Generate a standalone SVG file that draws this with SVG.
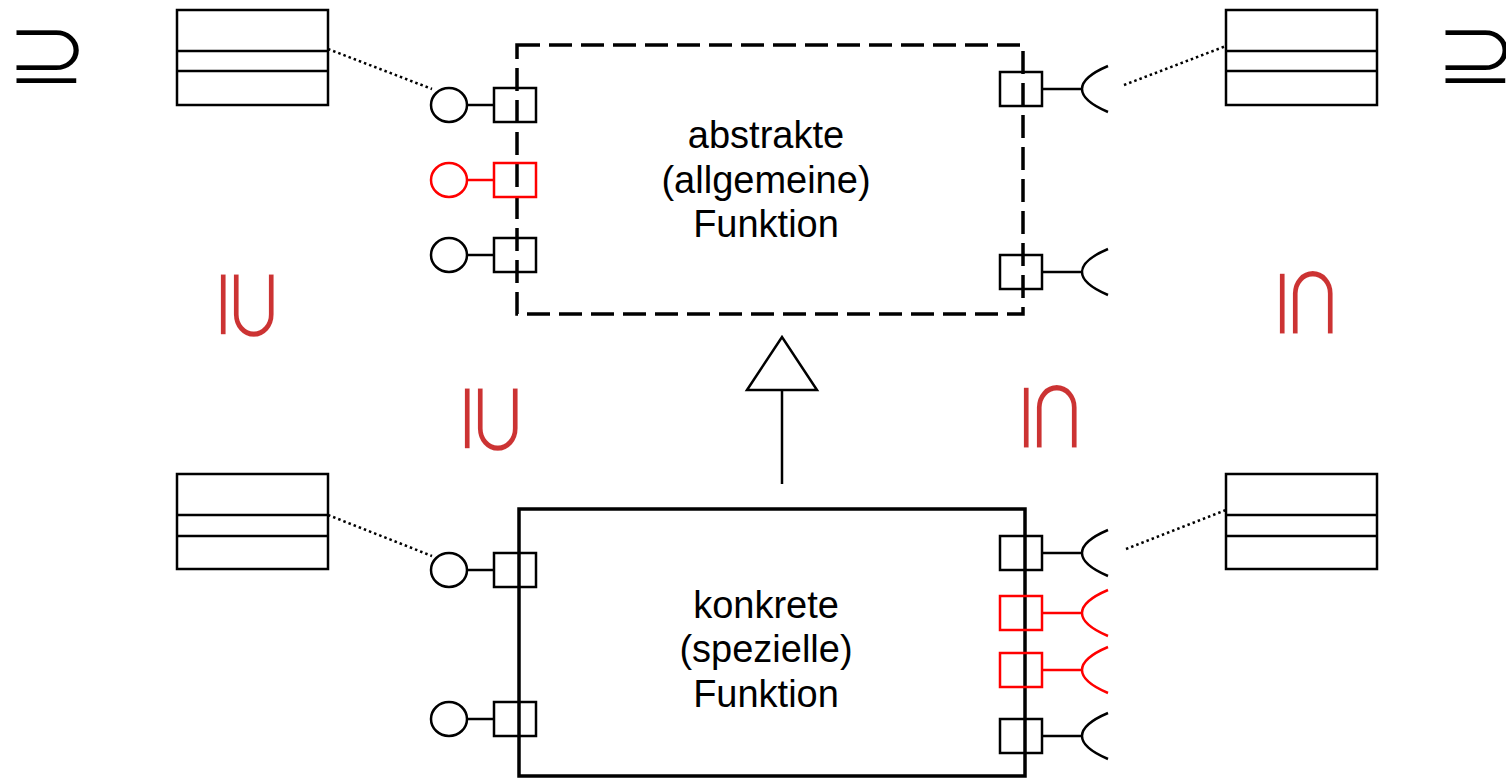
<svg xmlns="http://www.w3.org/2000/svg" xmlns:xlink="http://www.w3.org/1999/xlink" width="1506" height="778" viewBox="0 0 1506 778">
<style>
.bg{fill:#fff}
.cls{fill:none;stroke:#000;stroke-width:2.5}
.frame-abs{fill:none;stroke:#000;stroke-width:3.5;stroke-dasharray:23 9}
.frame-con{fill:none;stroke:#000;stroke-width:3.5}
.lbl{font-family:"Liberation Sans",Arial,sans-serif;font-size:38px;fill:#000;text-anchor:middle}
.sym{font-family:"DejaVu Sans",sans-serif;font-size:70px;text-anchor:middle;stroke:#fff;stroke-width:1.4px}
.blk{fill:#000}
.red{fill:#cc3333}
.dot{fill:none;stroke:#000;stroke-width:2.5;stroke-dasharray:2.5 3}
.gen{fill:none;stroke:#000;stroke-width:2.5}
.pb{color:#000}
.pr{color:#f00}
</style>
<defs>
<g id="prov" fill="none" stroke="currentColor" stroke-width="2.5">
<ellipse cx="-66" cy="0" rx="18" ry="17" fill="#fff"/>
<line x1="-48" y1="0" x2="-21" y2="0"/>
<rect x="-21" y="-17" width="42" height="34"/>
</g>
<g id="req" fill="none" stroke="currentColor" stroke-width="2.5">
<rect x="-21" y="-17" width="42" height="34"/>
<line x1="21" y1="0" x2="61" y2="0"/>
<path d="M87,-23 Q61,-12 61,0 Q61,12 87,23"/>
</g>
<marker id="tri" markerUnits="userSpaceOnUse" viewBox="-3 -3 59 76" refX="0" refY="35" markerWidth="59" markerHeight="76" orient="auto">
<path d="M0,0 L53,35 L0,70 Z" fill="#fff" stroke="#000" stroke-width="2.5"/>
</marker>
</defs>
<rect class="bg" x="0" y="0" width="1506" height="778"/>

<g id="symbols">
<g transform="translate(47,58) scale(1.44,1.27)"><text class="sym blk" x="0" y="20.5">⊇</text></g>
<g transform="translate(1476,58) scale(1.44,1.27)"><text class="sym blk" x="0" y="20.5">⊇</text></g>
<g transform="translate(246,305) rotate(90) scale(1.44,1.27)"><text class="sym red" x="0" y="20.5">⊇</text></g>
<g transform="translate(490,419) rotate(90) scale(1.44,1.27)"><text class="sym red" x="0" y="20.5">⊇</text></g>
<g transform="translate(1305,303) rotate(90) scale(1.44,1.27)"><text class="sym red" x="0" y="20.5">⊆</text></g>
<g transform="translate(1049,417) rotate(90) scale(1.44,1.27)"><text class="sym red" x="0" y="20.5">⊆</text></g>
</g>

<g id="class-tl"><rect class="cls" x="177" y="10" width="151" height="95"/><line class="cls" x1="177" y1="51" x2="328" y2="51"/><line class="cls" x1="177" y1="71" x2="328" y2="71"/></g>
<g id="class-tr"><rect class="cls" x="1226" y="10" width="151" height="95"/><line class="cls" x1="1226" y1="51" x2="1377" y2="51"/><line class="cls" x1="1226" y1="71" x2="1377" y2="71"/></g>
<g id="class-bl"><rect class="cls" x="177" y="474" width="151" height="95"/><line class="cls" x1="177" y1="515" x2="328" y2="515"/><line class="cls" x1="177" y1="536" x2="328" y2="536"/></g>
<g id="class-br"><rect class="cls" x="1226" y="474" width="151" height="95"/><line class="cls" x1="1226" y1="515" x2="1377" y2="515"/><line class="cls" x1="1226" y1="536" x2="1377" y2="536"/></g>

<g id="abstract-function">
<rect class="frame-abs" x="517" y="45" width="506" height="269"/>
<text class="lbl" x="766" y="148">abstrakte</text>
<text class="lbl" x="766" y="193">(allgemeine)</text>
<text class="lbl" x="766" y="237">Funktion</text>
<use xlink:href="#prov" href="#prov" class="pb" transform="translate(515,105)"/>
<use xlink:href="#prov" href="#prov" class="pr" transform="translate(515,180)"/>
<use xlink:href="#prov" href="#prov" class="pb" transform="translate(515,255)"/>
<use xlink:href="#req" href="#req" class="pb" transform="translate(1021,89)"/>
<use xlink:href="#req" href="#req" class="pb" transform="translate(1021,272)"/>
</g>

<g id="concrete-function">
<rect class="frame-con" x="519" y="509" width="506" height="267"/>
<text class="lbl" x="766" y="618">konkrete</text>
<text class="lbl" x="766" y="662">(spezielle)</text>
<text class="lbl" x="766" y="707">Funktion</text>
<use xlink:href="#prov" href="#prov" class="pb" transform="translate(515,570)"/>
<use xlink:href="#prov" href="#prov" class="pb" transform="translate(515,719)"/>
<use xlink:href="#req" href="#req" class="pb" transform="translate(1021,553)"/>
<use xlink:href="#req" href="#req" class="pr" transform="translate(1021,613)"/>
<use xlink:href="#req" href="#req" class="pr" transform="translate(1021,670)"/>
<use xlink:href="#req" href="#req" class="pb" transform="translate(1021,736)"/>
</g>

<g id="connectors">
<line class="dot" x1="328" y1="49" x2="432" y2="89"/>
<line class="dot" x1="1124" y1="85" x2="1226" y2="46"/>
<line class="dot" x1="328" y1="515" x2="432" y2="556"/>
<line class="dot" x1="1126" y1="549" x2="1226" y2="510"/>
<line class="gen" x1="782" y1="484" x2="782" y2="390" marker-end="url(#tri)"/>
</g>
</svg>
